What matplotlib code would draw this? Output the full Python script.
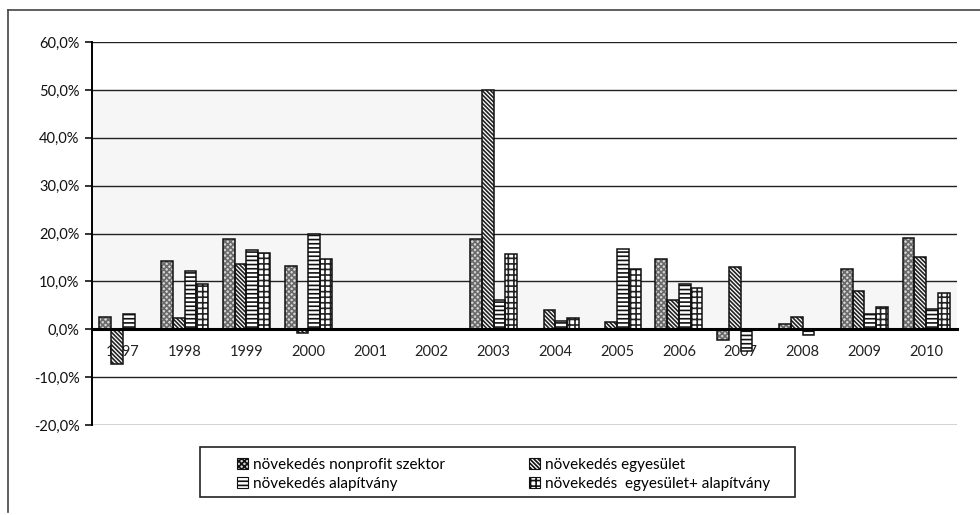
import numpy as np
import matplotlib.pyplot as plt
from matplotlib.lines import Line2D
from matplotlib.patches import Patch, Rectangle
from matplotlib.ticker import FuncFormatter

# data (growth in %, NaN = no bar)
years = ['1997', '1998', '1999', '2000', '2001', '2002', '2003',
         '2004', '2005', '2006', '2007', '2008', '2009', '2010']
nonprofit = [2.5, 14.3, 18.9, 13.2, np.nan, np.nan, 18.9,
             np.nan, np.nan, 14.6, -2.2, 1.0, 12.5, 19.1]
egyesulet = [-7.3, 2.4, 13.6, -0.7, np.nan, np.nan, 50.0,
             4.0, 1.5, 6.1, 13.1, 2.6, 7.9, 15.0]
alapitvany = [3.1, 12.2, 16.6, 19.9, np.nan, np.nan, 6.1,
              1.7, 16.8, 9.5, -4.5, -1.2, 3.2, 4.3]
egy_alap = [np.nan, 9.4, 15.9, 14.6, np.nan, np.nan, 15.7,
            2.4, 12.5, 8.6, np.nan, np.nan, 4.7, 7.5]
labels = ['növekedés nonprofit szektor', 'növekedés egyesület',
          'növekedés alapítvány', 'növekedés  egyesület+ alapítvány']

plt.rcParams['font.family'] = ['Lato', 'DejaVu Sans']
plt.rcParams['hatch.linewidth'] = 1.2

fig = plt.figure(figsize=(9.8, 5.15), dpi=100)
ax = fig.add_axes([0.0939, 0.1748, 0.8826, 0.7436])

# light grey background patches as in the scan
ax.axhspan(0, 50, xmin=0, xmax=0.449, color='#f6f6f6', zorder=0)
ax.axhspan(0, 10, xmin=0.449, xmax=1.0, color='#f6f6f6', zorder=0)

x = np.arange(len(years))
w = 0.19
series = [nonprofit, egyesulet, alapitvany, egy_alap]
faces = ['#d6d6d6', 'white', 'white', 'white']
hatch_cols = ['#6a6a6a', '#222222', '#111111', '#222222']
hatches = ['xxxxxx', '\\' * 8, '----', '+++']
handles = []
for i, vals in enumerate(series):
    xs = x + (i - 1.5) * w
    # hatched fill, then black outline on top
    ax.bar(xs, vals, width=w, color=faces[i], hatch=hatches[i],
           edgecolor=hatch_cols[i], linewidth=0, zorder=3)
    ax.bar(xs, vals, width=w, fill=False, edgecolor='#111111',
           linewidth=1.1, zorder=3.5)
    handles.append(Patch(facecolor=faces[i], hatch=hatches[i],
                         edgecolor=hatch_cols[i], linewidth=0))

ax.set_xlim(-0.5, len(years) - 0.5)
ax.set_ylim(-20, 60)
ax.set_yticks(np.arange(-20, 61, 10))
ax.yaxis.set_major_formatter(FuncFormatter(lambda v, p: f'{v:.1f}%'.replace('.', ',')))
ax.yaxis.grid(True, color='#222222', linewidth=1.0, zorder=1)
ax.set_axisbelow(True)

ax.set_xticks(x)
ax.set_xticklabels(years)
ax.tick_params(axis='x', length=0, pad=11, labelsize=10.5, colors='#222222')
ax.tick_params(axis='y', length=5, width=1.2, direction='out', labelsize=10.5,
               colors='#111111', pad=4)

ax.spines['top'].set_visible(False)
ax.spines['right'].set_visible(False)
ax.spines['left'].set_linewidth(1.4)
ax.spines['bottom'].set_position(('data', 0))
ax.spines['bottom'].set_linewidth(2.2)
ax.spines['bottom'].set_zorder(4)

# legend: frame drawn separately, one legend per column
fig.add_artist(Rectangle((200 / 980, 1 - 497 / 515), 595 / 980, 50 / 515,
                         transform=fig.transFigure, fill=False,
                         edgecolor='#222222', linewidth=1.2))
leg_kw = dict(loc='upper left', frameon=False, fontsize=11, handlelength=0.75,
              handleheight=0.75, handletextpad=0.3, labelspacing=0.35, borderpad=0)
fig.legend([handles[0], handles[2]], [labels[0], labels[2]],
           bbox_to_anchor=(229 / 980, 1 - 450 / 515), **leg_kw)
fig.legend([handles[1], handles[3]], [labels[1], labels[3]],
           bbox_to_anchor=(521 / 980, 1 - 450 / 515), **leg_kw)
for leg in fig.legends:
    for h in leg.legend_handles:
        h.set_linewidth(0.8)
        h.set_edgecolor('#111111')

# partial outer frame (left and top edges)
fig.add_artist(Line2D([0.0085, 0.0085], [0.006, 0.981], color='#444444', linewidth=1.2))
fig.add_artist(Line2D([0.0085, 1.0], [0.981, 0.981], color='#444444', linewidth=1.2))

fig.savefig('out.png', dpi=100)
